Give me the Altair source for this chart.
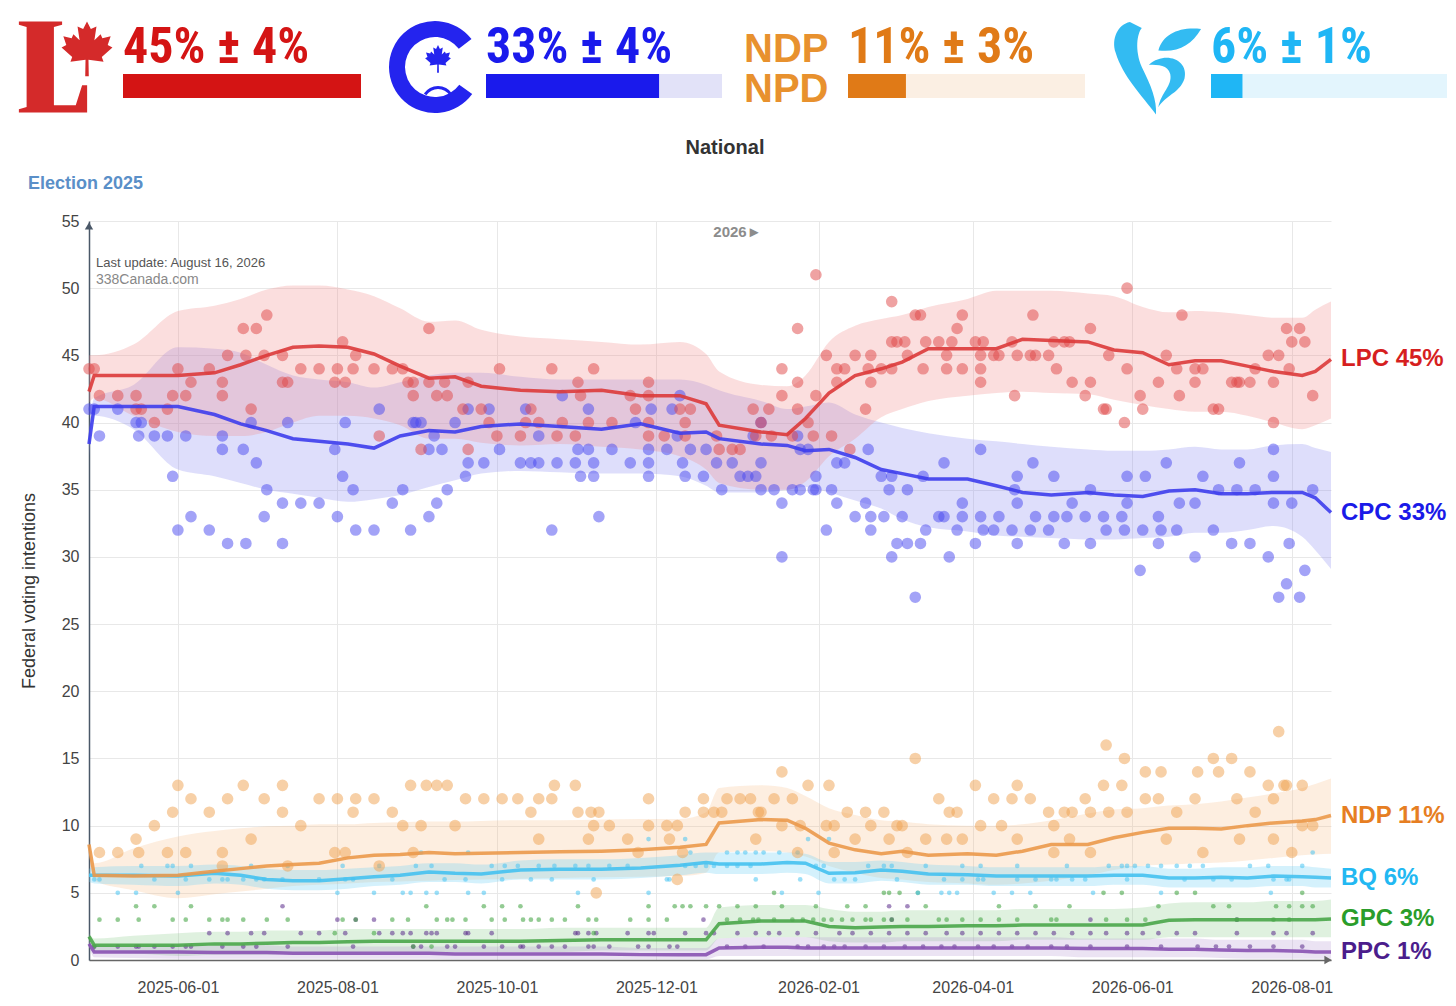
import altair as alt
import pandas as pd

# ---------------- data ----------------
ELECTION_DAY = pd.Timestamp("2025-04-28")   # day 0
END_DATE = "2026-08-16"

# trend grid, in days since the 2025-04-28 election
trend_days = [0, 2, 17, 34, 48, 58, 68, 78, 88, 99,
              109, 119, 130, 140, 150, 165, 180, 196, 211, 226,
              236, 241, 257, 267, 274, 283, 293, 303, 311, 321,
              336, 347, 357, 368, 382, 392, 403, 413, 423, 433,
              443, 453, 464, 469, 475]

lpc_mid = [42.3, 43.5, 43.5, 43.5, 43.7, 44.3, 45.0, 45.6, 45.7, 45.6,
           45.1, 44.2, 43.3, 43.4, 42.7, 42.4, 42.3, 42.4, 42.0, 42.0,
           41.4, 39.8, 39.3, 39.1, 40.3, 42.2, 43.5, 44.0, 44.5, 45.5,
           45.5, 45.5, 46.2, 46.1, 46.0, 45.4, 45.2, 44.3, 44.6, 44.6,
           44.2, 43.8, 43.5, 43.8, 44.7]
lpc_hi = [45.0, 45.0, 45.8, 48.3, 48.7, 49.2, 49.9, 50.2, 50.2, 49.9,
          49.4, 48.5, 47.5, 47.6, 46.9, 46.4, 46.2, 46.0, 45.8, 46.0,
          45.1, 43.8, 42.8, 42.7, 43.5, 46.0, 47.2, 47.7, 48.0, 48.6,
          49.2, 49.8, 49.8, 49.8, 49.6, 49.4, 48.6, 48.2, 48.3, 48.2,
          48.0, 47.8, 47.8, 48.4, 49.0]
lpc_lo = [41.5, 41.8, 40.5, 39.3, 39.0, 39.0, 39.3, 40.0, 40.5, 40.5,
          40.3, 39.8, 38.8, 38.8, 38.5, 38.3, 38.4, 38.2, 38.0, 37.5,
          36.5, 35.5, 35.0, 35.0, 35.6, 37.5, 38.8, 40.4, 41.0, 41.6,
          42.0, 42.2, 42.3, 42.2, 42.1, 41.7, 41.3, 41.0, 40.8, 40.8,
          40.5, 40.0, 39.5, 39.8, 40.3]

cpc_mid = [38.4, 41.2, 41.2, 41.2, 40.6, 39.9, 39.4, 38.8, 38.6, 38.4,
           38.1, 39.0, 39.4, 39.3, 39.7, 39.9, 39.7, 39.5, 39.9, 39.2,
           39.3, 38.8, 38.4, 38.3, 37.9, 38.0, 37.4, 36.5, 36.2, 35.8,
           35.8, 35.3, 34.8, 34.6, 34.8, 34.6, 34.5, 34.9, 35.0, 34.7,
           34.7, 34.8, 34.8, 34.4, 33.3]
cpc_hi = [39.5, 41.8, 42.8, 45.6, 45.5, 45.2, 44.3, 43.5, 43.2, 43.0,
          42.6, 43.0, 43.5, 43.7, 43.7, 43.4, 43.2, 43.2, 43.2, 43.2,
          42.8, 42.4, 41.6, 41.0, 41.2, 41.5, 40.6, 40.0, 39.6, 39.2,
          38.8, 38.6, 38.4, 38.2, 38.0, 37.9, 37.9, 38.0, 38.2, 38.0,
          38.0, 38.3, 38.4, 38.1, 37.8]
cpc_lo = [37.5, 40.5, 39.5, 36.5, 36.0, 35.5, 35.0, 34.7, 34.4, 34.1,
          34.3, 34.6, 35.2, 35.7, 36.2, 36.4, 36.3, 36.2, 36.2, 36.0,
          35.3, 34.8, 34.8, 35.0, 35.2, 34.8, 34.2, 33.6, 32.8, 32.2,
          31.9, 31.6, 31.5, 31.4, 31.3, 31.3, 31.4, 31.5, 31.8, 31.8,
          32.0, 32.3, 31.5, 30.5, 29.1]

ndp_mid = [8.6, 6.3, 6.25, 6.3, 6.6, 6.8, 7.0, 7.1, 7.2, 7.6,
           7.8, 7.85, 8.0, 7.9, 7.95, 8.0, 8.05, 8.1, 8.2, 8.4,
           8.6, 10.2, 10.45, 10.4, 9.8, 8.7, 8.2, 7.9, 8.1, 7.8,
           7.9, 7.8, 8.1, 8.6, 8.6, 9.1, 9.5, 9.8, 9.8, 9.75,
           10.0, 10.2, 10.35, 10.45, 10.75]
ndp_hi = [9.0, 7.2, 8.3, 9.2, 9.6, 9.8, 9.95, 10.0, 10.1, 10.1,
          10.2, 10.25, 10.3, 10.3, 10.35, 10.4, 10.4, 10.45, 10.5, 10.5,
          11.0, 12.8, 13.0, 12.8, 12.2, 11.3, 10.8, 10.4, 10.3, 10.1,
          10.0, 10.0, 10.1, 10.4, 10.9, 11.2, 11.3, 11.5, 11.6, 11.8,
          12.1, 12.4, 12.8, 13.1, 13.5]
ndp_lo = [8.0, 5.9, 5.2, 4.6, 4.9, 5.1, 5.3, 5.5, 5.6, 5.7,
          5.8, 5.85, 5.9, 5.95, 6.0, 6.05, 6.1, 6.15, 6.2, 6.25,
          6.5, 8.0, 8.1, 8.0, 7.7, 7.0, 6.5, 6.1, 6.0, 5.8,
          5.7, 5.6, 5.7, 5.9, 6.3, 6.7, 7.0, 7.1, 7.2, 7.25,
          7.4, 7.6, 7.8, 7.85, 7.9]

bq_mid = [6.3, 6.3, 6.3, 6.25, 6.45, 6.3, 6.0, 5.9, 5.9, 6.05,
          6.2, 6.3, 6.55, 6.45, 6.4, 6.7, 6.75, 6.75, 6.85, 7.05,
          7.25, 7.15, 7.15, 7.25, 7.2, 6.45, 6.5, 6.7, 6.6, 6.4,
          6.35, 6.25, 6.25, 6.25, 6.25, 6.3, 6.3, 6.1, 6.1, 6.15,
          6.1, 6.25, 6.2, 6.15, 6.1]
bq_hi = [6.8, 6.9, 7.0, 7.0, 7.1, 7.0, 6.8, 6.7, 6.7, 6.8,
         6.9, 7.0, 7.2, 7.2, 7.1, 7.4, 7.5, 7.5, 7.6, 7.8,
         8.0, 8.0, 8.0, 8.0, 7.9, 7.3, 7.3, 7.4, 7.3, 7.1,
         7.0, 6.9, 6.9, 6.9, 6.9, 7.0, 7.0, 6.8, 6.8, 6.9,
         6.9, 7.0, 7.0, 6.9, 6.8]
bq_lo = [5.8, 5.7, 5.6, 5.5, 5.7, 5.6, 5.3, 5.2, 5.2, 5.3,
         5.5, 5.6, 5.8, 5.8, 5.7, 6.0, 6.0, 6.0, 6.1, 6.3,
         6.5, 6.4, 6.4, 6.5, 6.4, 5.7, 5.7, 5.9, 5.8, 5.6,
         5.6, 5.5, 5.5, 5.5, 5.5, 5.6, 5.6, 5.4, 5.4, 5.4,
         5.4, 5.5, 5.5, 5.4, 5.4]

gpc_mid = [1.75, 1.1, 1.1, 1.1, 1.2, 1.2, 1.25, 1.3, 1.3, 1.35,
           1.4, 1.4, 1.4, 1.4, 1.4, 1.4, 1.45, 1.5, 1.5, 1.5,
           1.5, 2.7, 2.9, 2.9, 2.9, 2.5, 2.4, 2.45, 2.5, 2.5,
           2.55, 2.55, 2.6, 2.6, 2.6, 2.6, 2.6, 2.95, 3.0, 3.0,
           3.0, 3.0, 3.0, 3.0, 3.05]
gpc_hi = [2.0, 1.6, 1.8, 2.0, 2.1, 2.1, 2.2, 2.2, 2.2, 2.3,
          2.3, 2.3, 2.3, 2.3, 2.3, 2.3, 2.4, 2.4, 2.4, 2.4,
          2.4, 3.9, 4.1, 4.1, 4.1, 3.8, 3.6, 3.6, 3.7, 3.7,
          3.7, 3.7, 3.8, 3.8, 3.8, 3.8, 3.9, 4.2, 4.3, 4.3,
          4.3, 4.4, 4.4, 4.4, 4.5]
gpc_lo = [1.4, 0.6, 0.5, 0.3, 0.4, 0.4, 0.4, 0.5, 0.5, 0.5,
          0.6, 0.6, 0.6, 0.6, 0.6, 0.6, 0.6, 0.7, 0.7, 0.7,
          0.7, 1.6, 1.7, 1.7, 1.7, 1.4, 1.3, 1.3, 1.4, 1.4,
          1.4, 1.4, 1.5, 1.5, 1.5, 1.5, 1.5, 1.7, 1.7, 1.7,
          1.7, 1.7, 1.7, 1.7, 1.7]

ppc_mid = [1.2, 0.6, 0.6, 0.6, 0.55, 0.55, 0.55, 0.5, 0.5, 0.5,
           0.5, 0.5, 0.5, 0.45, 0.45, 0.45, 0.45, 0.45, 0.4, 0.4,
           0.4, 0.9, 0.95, 0.95, 0.9, 0.9, 0.9, 0.9, 0.9, 0.9,
           0.9, 0.9, 0.9, 0.9, 0.85, 0.85, 0.85, 0.8, 0.8, 0.75,
           0.7, 0.7, 0.65, 0.6, 0.6]
ppc_hi = [1.4, 1.0, 1.0, 1.1, 1.1, 1.1, 1.1, 1.0, 1.0, 1.0,
          1.0, 1.0, 1.0, 1.0, 1.0, 1.0, 1.0, 1.0, 0.9, 0.9,
          0.9, 1.6, 1.7, 1.7, 1.7, 1.7, 1.7, 1.7, 1.7, 1.7,
          1.7, 1.7, 1.7, 1.7, 1.6, 1.6, 1.6, 1.6, 1.6, 1.5,
          1.5, 1.5, 1.5, 1.4, 1.4]
ppc_lo = [1.0, 0.2, 0.15, 0.1, 0.1, 0.1, 0.1, 0.1, 0.1, 0.1,
          0.1, 0.1, 0.1, 0.05, 0.05, 0.05, 0.05, 0.05, 0.05, 0.05,
          0.05, 0.3, 0.3, 0.3, 0.3, 0.3, 0.3, 0.3, 0.3, 0.3,
          0.3, 0.3, 0.3, 0.3, 0.2, 0.2, 0.2, 0.2, 0.2, 0.15,
          0.1, 0.1, 0.1, 0.1, 0.1]

# individual polls: (days since election, %)
lpc_polls = [(0,44),(2,44),(4,42),(11,42),(18,42),(18,41),(20,41),(25,40),(30,41),(32,42),(34,44),(37,42),(39,43),
    (46,44),(51,43),(51,42),(53,45),(59,47),(60,45),(62,41),(64,47),(67,45),(68,48),(74,45),(74,43),(76,43),(81,44),
    (88,44),(94,43),(95,44),(97,46),(98,43),(101,44),(102,45),(109,44),(111,39),(116,44),(120,44),(122,43),(124,43),
    (124,42),(127,38),(130,47),(130,43),(133,42),(136,43),(137,42),(143,41),(145,43),(145,38),(150,41),(153,40),
    (156,39),(157,44),(165,39),(167,40),(169,41),(172,40),(177,44),(179,39),(181,40),(186,39),(187,43),(188,42),
    (191,40),(193,44),(200,40),(207,42),(209,41),(214,42),(214,43),(214,40),(214,39),(220,39),(226,41),(228,40),
    (230,41),(228,39),(240,39),(241,38),(246,38),(249,38),(254,41),(255,39),(257,40),(260,41),(261,39),(265,42),
    (265,44),(269,39),(271,47),(271,43),(271,41),(275,40),(277,39),(278,51),(278,42),(282,45),(284,39),(286,44),
    (286,43),(289,44),(291,38),(293,45),(297,41),(298,44),(299,45),(299,43),(303,44),(307,49),(307,46),(309,46),
    (307,44),(312,46),(313,45),(316,48),(318,48),(319,44),(320,46),(325,46),(328,45),(328,44),(330,46),(332,47),
    (334,48),(334,44),(339,46),(341,45),(341,44),(341,43),(342,46),(346,45),(348,45),(353,46),(354,42),(355,45),
    (360,45),(361,48),(362,45),(367,45),(369,46),(370,44),(373,46),(375,46),(376,43),(381,42),(383,47),(383,43),
    (388,41),(389,41),(390,45),(396,40),(397,50),(397,44),(402,42),(403,41),(409,43),(412,45),(416,44),(417,42),
    (418,48),(423,44),(423,43),(426,44),(430,41),(432,41),(437,43),(439,43),(440,43),(444,43),(446,44),(451,45),
    (453,40),(453,43),(455,45),(458,47),(459,44),(460,46),(463,47),(465,46),(468,42)]

cpc_polls = [(0,41),(2,41),(4,39),(11,41),(18,40),(20,40),(19,39),(25,39),(30,39),(32,36),(34,32),(37,39),(39,33),
    (46,32),(51,39),(51,38),(53,31),(59,38),(60,31),(62,40),(64,37),(67,33),(68,35),(74,34),(74,31),(76,40),(81,34),
    (88,34),(94,38),(95,33),(97,36),(98,40),(101,35),(102,32),(109,32),(111,41),(116,34),(120,35),(123,32),(124,40),
    (125,40),(127,40),(130,33),(132,39),(130,38),(133,34),(135,38),(137,35),(140,40),(144,36),(145,37),(145,41),
    (151,37),(153,41),(157,38),(165,37),(167,41),(169,37),(172,37),(172,39),(177,32),(179,37),(181,42),(186,37),
    (187,38),(188,36),(191,41),(191,38),(193,37),(193,36),(195,33),(200,38),(207,37),(209,40),(214,38),(214,37),
    (214,36),(215,41),(221,38),(223,41),(225,39),(226,42),(227,37),(228,36),(230,38),(235,36),(236,38),(240,37),
    (242,35),(246,37),(249,36),(252,36),(254,39),(255,36),(257,40),(257,37),(257,35),(262,35),(265,34),(265,30),
    (269,35),(271,39),(272,38),(272,35),(275,38),(277,35),(278,36),(278,35),(282,32),(284,35),(286,37),(286,34),
    (289,37),(293,33),(297,34),(298,38),(299,33),(299,32),(303,36),(304,33),(306,35),(307,30),(309,31),(307,36),
    (311,33),(313,35),(313,31),(316,27),(318,31),(319,36),(320,32),(325,33),(327,33),(327,37),(329,30),(332,32),
    (334,34),(334,33),(339,31),(341,38),(341,33),(342,32),(346,32),(348,33),(353,32),(354,35),(355,36),(355,34),
    (355,31),(360,32),(361,37),(362,33),(367,32),(369,36),(369,33),(373,31),(374,33),(376,34),(381,33),(383,35),
    (383,31),(388,33),(389,32),(395,33),(396,32),(397,36),(397,34),(402,29),(403,32),(404,36),(409,33),(409,31),
    (410,32),(412,37),(416,32),(417,34),(423,30),(423,34),(426,36),(430,32),(432,35),(437,31),(439,35),(440,37),
    (444,31),(446,35),(451,30),(453,38),(453,36),(453,34),(455,27),(458,28),(459,31),(460,34),(463,27),(465,29),
    (468,35)]

ndp_polls = [(4,8),(11,8),(18,9),(19,8),(25,10),(30,8),(32,11),(34,13),(37,8),(39,12),(46,11),(51,7),(51,8),(53,12),
    (59,13),(62,9),(67,12),(74,13),(74,11),(76,7),(81,10),(88,12),(94,8),(95,12),(98,8),(101,11),(102,12),(109,12),
    (111,7),(116,11),(120,10),(123,13),(124,8),(127,10),(129,13),(133,13),(137,13),(140,10),(144,12),(151,12),
    (158,12),(164,12),(169,11),(172,9),(172,12),(177,12),(178,13),(186,13),(187,11),(191,9),(192,11),(193,10),
    (194,5),(195,11),(199,10),(206,9),(210,8),(214,10),(214,12),(221,10),(222,9),(225,10),(225,6),(227,8),(228,11),
    (235,11),(235,12),(239,11),(242,11),(244,12),(249,12),(253,12),(255,9),(256,11),(257,11),(262,12),(265,10),
    (265,14),(269,12),(271,8),(272,10),(275,13),(282,10),(283,13),(285,10),(285,8),(290,11),(293,9),(297,11),
    (299,10),(304,11),(306,9),(309,10),(311,10),(313,8),(316,15),(320,9),(325,12),(328,9),(329,11),(332,11),
    (334,9),(339,13),(341,10),(346,12),(349,10),(353,12),(355,13),(355,9),(360,12),(367,11),(369,10),(369,8),
    (373,11),(375,9),(376,11),(381,12),(383,11),(383,8),(388,13),(389,16),(390,11),(395,13),(396,15),(397,11),
    (404,14),(404,12),(409,12),(410,14),(412,9),(416,11),(423,12),(424,14),(426,8),(430,15),(432,14),(437,15),
    (439,12),(440,9),(444,14),(446,11),(451,13),(453,9),(453,12),(455,17),(457,13),(458,13),(460,8),(464,10),
    (464,13),(468,10)]

bq_polls = [(2,6),(4,6),(11,5),(18,5),(20,7),(25,6),(30,7),(32,7),(34,5),(37,6),(39,7),(46,6),(51,6),(53,6),(59,6),
    (62,7),(64,6),(67,6),(74,6),(76,7),(88,6),(95,5),(97,7),(98,6),(101,6),(109,5),(111,7),(116,6),(120,5),(123,5),
    (125,7),(127,8),(129,5),(131,7),(133,5),(136,6),(144,6),(145,5),(145,8),(151,5),(154,7),(158,6),(159,7),(164,7),
    (169,6),(172,7),(177,6),(178,7),(186,7),(187,5),(191,7),(193,6),(199,7),(206,7),(214,9),(214,5),(221,6),(222,6),
    (228,9),(228,7),(230,8),(232,7),(236,7),(239,7),(244,8),(244,7),(248,8),(248,7),(251,8),(253,7),(255,8),(255,6),
    (258,8),(264,8),(265,5),(271,8),(272,6),(275,9),(278,7),(279,5),(281,7),(283,9),(285,6),(289,6),(293,6),(298,7),
    (304,7),(307,7),(309,6),(317,5),(320,7),(326,5),(327,6),(329,5),(332,5),(334,7),(334,6),(340,6),(341,7),(342,6),
    (346,5),(353,5),(355,7),(355,6),(360,5),(362,6),(368,6),(370,6),(374,7),(376,6),(381,6),(384,5),(390,7),(395,7),
    (397,7),(397,6),(400,7),(405,7),(410,7),(410,5),(416,7),(419,6),(421,7),(426,7),(430,6),(437,6),(444,7),(451,7),
    (452,5),(453,6),(458,6),(459,6),(464,7),(468,8)]

gpc_polls = [(2,1),(4,3),(11,3),(18,4),(19,3),(25,4),(32,3),(37,3),(39,4),(46,3),(51,3),(53,3),(59,3),(68,3),(76,3),
    (94,2),(97,3),(102,3),(109,2),(116,3),(122,3),(124,1),(129,4),(131,1),(133,3),(137,3),(139,3),(144,3),(151,4),
    (154,3),(158,4),(159,3),(165,4),(166,3),(169,3),(172,3),(177,3),(182,3),(187,4),(191,3),(193,2),(194,3),(207,3),
    (214,4),(214,3),(221,3),(224,4),(227,4),(230,4),(236,4),(241,4),(244,3),(248,4),(249,3),(254,3),(255,4),(256,3),
    (262,3),(262,5),(265,4),(269,3),(273,3),(277,3),(278,4),(281,3),(284,3),(288,3),(290,4),(292,3),(297,3),(297,4),
    (299,3),(304,3),(304,5),(306,5),(307,3),(310,5),(313,3),(317,5),(320,4),(325,3),(328,3),(334,3),(341,3),(348,3),
    (348,4),(355,3),(362,4),(368,3),(370,3),(375,4),(388,5),(389,3),(395,5),(397,3),(404,3),(409,4),(416,5),(423,5),
    (430,4),(436,4),(439,3),(453,3),(454,4),(459,3),(459,4),(464,5),(464,4),(468,4)]

ppc_polls = [(2,1),(11,1),(18,1),(19,1),(25,1),(32,1),(37,1),(39,1),(46,2),(51,1),(53,2),(59,1),(62,2),(64,1),(67,2),
    (74,4),(76,1),(81,2),(88,2),(95,3),(98,2),(101,1),(102,3),(109,3),(111,2),(116,2),(120,2),(123,2),(124,1),(127,1),
    (129,2),(131,2),(133,2),(137,1),(140,1),(144,2),(145,2),(151,1),(154,2),(158,1),(165,1),(166,1),(172,1),(177,1),
    (182,1),(186,2),(187,2),(191,1),(191,2),(193,1),(194,2),(199,1),(206,2),(210,1),(214,1),(214,2),(216,2),(222,1),
    (225,1),(228,2),(235,3),(236,2),(239,2),(244,1),(248,2),(251,1),(255,2),(258,1),(260,2),(264,2),(271,1),(271,2),
    (275,1),(278,2),(281,1),(285,1),(287,2),(289,1),(292,2),(297,1),(299,2),(304,1),(306,2),(306,4),(307,3),(312,1),
    (313,2),(313,4),(319,1),(320,2),(326,1),(328,2),(331,1),(334,2),(340,1),(341,2),(346,1),(348,2),(353,1),(355,2),
    (359,1),(362,2),(368,1),(369,2),(374,1),(376,2),(383,2),(383,1),(383,3),(389,2),(397,2),(397,1),(403,2),(409,2),
    (410,1),(416,2),(423,2),(424,1),(431,1),(436,1),(439,2),(439,3),(444,1),(453,1),(453,2),(458,2),(464,1),(468,2)]

parties = ["LPC", "CPC", "NDP", "BQ", "GPC", "PPC"]
end_labels = ["LPC 45%", "CPC 33%", "NDP 11%", "BQ 6%", "GPC 3%", "PPC 1%"]

header_parties = ["LPC", "CPC", "NDP", "BQ"]
header_share = [45, 33, 11, 6]
header_moe = [4, 4, 3, 1]
bar_max = 45

x_tick_dates = ["2025-06-01", "2025-08-01", "2025-10-01", "2025-12-01",
                "2026-02-01", "2026-04-01", "2026-06-01", "2026-08-01"]
year_mark_date = "2026-01-01"

# ---------------- styles / layout ----------------
FONT = "Liberation Sans, Arial, Helvetica, sans-serif"
NARROW = "Liberation Sans Narrow, Arial Narrow, Roboto Condensed, DejaVu Sans Condensed, sans-serif"

line_color = {"LPC": "#dc3a3a", "CPC": "#3d3dec", "NDP": "#eb994b", "BQ": "#45c1ef", "GPC": "#4aa64a", "PPC": "#8a52b2"}
dot_color = {"LPC": "#e04646", "CPC": "#4848f0", "NDP": "#f0a150", "BQ": "#48c4f2", "GPC": "#3aa03a", "PPC": "#5a2a8a"}
band_color = {"LPC": "#f08a8a", "CPC": "#8a8af2", "NDP": "#f5b070", "BQ": "#70d0f5", "GPC": "#80c880", "PPC": "#b090d0"}
band_op = {"LPC": 0.28, "CPC": 0.28, "NDP": 0.22, "BQ": 0.3, "GPC": 0.25, "PPC": 0.25}
label_color = ["#d61f1f", "#1a1ae8", "#e67e22", "#22b8f2", "#2a9d2a", "#4b1d8c"]

hdr_color = ["#d41414", "#1a1aec", "#e07a17", "#1fb6f5"]
hdr_bg = ["#f6d6d6", "#e2e2f8", "#fbefe3", "#e3f5fd"]
# pixel ranges (relative to the plot's left edge) of the four header gauges
hdr_bar_range = [[34, 272], [397, 633], [759, 996], [1122, 1358]]
HDR_TEXT_Y, HDR_BAR_Y, HDR_BAR_Y2 = -158, -147, -123

L_SHAPE = ("M-0.75,-1 L0.2,-1 L0.2,-0.93 L0.02,-0.88 L0.02,0.84 L0.5,0.84 L0.64,0.4 L0.75,0.4 "
           "L0.75,1 L-0.75,1 L-0.75,0.93 L-0.58,0.88 L-0.58,-0.88 L-0.75,-0.93 Z")
LEAF = ("M0,-1 L0.13,-0.74 L0.32,-0.83 L0.25,-0.36 L0.46,-0.57 L0.52,-0.43 L0.8,-0.5 L0.7,-0.2 "
        "L0.86,-0.12 L0.5,0.2 L0.56,0.36 L0.05,0.3 L0.06,0.85 L-0.06,0.85 L-0.05,0.3 L-0.56,0.36 "
        "L-0.5,0.2 L-0.86,-0.12 L-0.7,-0.2 L-0.8,-0.5 L-0.52,-0.43 L-0.46,-0.57 L-0.25,-0.36 "
        "L-0.32,-0.83 L-0.13,-0.74 Z")
BQ_LOGO = ("M-0.55,-0.95 C-0.8,-0.9 -0.95,-0.6 -0.85,-0.3 C-0.7,0.2 -0.3,0.6 0.0,1.0 "
           "C0.02,0.7 -0.1,0.4 -0.3,0.0 C-0.45,-0.35 -0.4,-0.7 -0.3,-0.82 Z "
           "M-0.15,-0.05 C0.2,-0.35 0.7,-0.15 0.6,0.25 C0.5,0.55 0.2,0.6 0.05,0.85 "
           "C0.1,0.55 0.35,0.4 0.3,0.15 C0.25,-0.05 0.05,-0.05 -0.15,-0.05 Z "
           "M0.05,-0.35 C0.15,-0.7 0.5,-0.85 0.95,-0.8 C0.75,-0.45 0.45,-0.3 0.05,-0.35 Z")


def to_date(d):
    return (ELECTION_DAY + pd.Timedelta(days=int(d))).strftime("%Y-%m-%d")


def ms(s):
    return int(pd.Timestamp(s, tz="UTC").value // 10**6)


W, H = 1242, 739
trend_dates = [to_date(d) for d in trend_days]
trend = {
    "LPC": (lpc_mid, lpc_lo, lpc_hi), "CPC": (cpc_mid, cpc_lo, cpc_hi), "NDP": (ndp_mid, ndp_lo, ndp_hi),
    "BQ": (bq_mid, bq_lo, bq_hi), "GPC": (gpc_mid, gpc_lo, gpc_hi), "PPC": (ppc_mid, ppc_lo, ppc_hi),
}
polls = {"LPC": lpc_polls, "CPC": cpc_polls, "NDP": ndp_polls, "BQ": bq_polls, "GPC": gpc_polls, "PPC": ppc_polls}

xscale = alt.Scale(type="utc", domain=[ms("2025-04-28"), ms(END_DATE)], nice=False)
xaxis = alt.Axis(values=[ms(d) for d in x_tick_dates], format="%Y-%m-%d", title=None, labelFontSize=16,
                 labelColor="#444", labelPadding=19, ticks=False, grid=True, gridColor="#e8e8e8",
                 domainColor="#666", domainWidth=1.5, labelFont=FONT)
yscale = alt.Scale(domain=[0, 55], nice=False)
yaxis = alt.Axis(values=list(range(0, 56, 5)), title="Federal voting intentions", titleFontSize=18,
                 titleFontWeight="normal", titleColor="#333", titleFont=FONT, labelFontSize=16, labelColor="#444",
                 labelFont=FONT, grid=True, gridColor="#e8e8e8", domainColor="#4a5868", domainWidth=1.5,
                 ticks=False, labelPadding=10, titlePadding=23)
X_AXIS = alt.X("date:T", scale=xscale, axis=xaxis)
X = alt.X("date:T", scale=xscale, axis=None)

layers = []
first = True
for p in ["NDP", "BQ", "GPC", "PPC", "CPC", "LPC"]:
    mid, lo, hi = trend[p]
    df = pd.DataFrame({"date": trend_dates, "lo": lo, "hi": hi})
    layers.append(alt.Chart(df).mark_area(color=band_color[p], opacity=band_op[p], interpolate="monotone")
                  .encode(x=X_AXIS if first else X, y=alt.Y("lo:Q", scale=yscale, axis=yaxis), y2="hi:Q"))
    first = False

for p in ["PPC", "GPC", "BQ", "NDP", "CPC", "LPC"]:
    df = pd.DataFrame({"date": [to_date(d) for d, v in polls[p]], "value": [v for d, v in polls[p]]})
    big = p in ("LPC", "CPC", "NDP")
    layers.append(alt.Chart(df).mark_circle(size=135 if big else 22, opacity=0.5 if big else 0.55, color=dot_color[p])
                  .encode(x=X, y=alt.Y("value:Q", scale=yscale, axis=yaxis)))

for p in ["PPC", "GPC", "BQ", "NDP", "CPC", "LPC"]:
    mid, lo, hi = trend[p]
    df = pd.DataFrame({"date": trend_dates, "value": mid})
    layers.append(alt.Chart(df).mark_line(color=line_color[p], strokeWidth=3.5, opacity=0.9)
                  .encode(x=X, y=alt.Y("value:Q", scale=yscale, axis=yaxis)))

lab_df = pd.DataFrame({"party": parties, "date": [END_DATE] * 6,
                       "value": [trend[p][0][-1] for p in parties], "text": end_labels})
layers.append(alt.Chart(lab_df).mark_text(align="left", baseline="middle", dx=10, fontSize=24, fontWeight="bold",
                                          font=FONT)
              .encode(x=X, y=alt.Y("value:Q", scale=yscale, axis=yaxis), text="text:N",
                      color=alt.Color("party:N", scale=alt.Scale(domain=parties, range=label_color), legend=None)))

yr_df = pd.DataFrame({"date": [year_mark_date], "text": ["2026►"]})
layers.append(alt.Chart(yr_df).mark_text(fontSize=15, fontWeight="bold", color="#8c8c8c", font=FONT,
                                         baseline="alphabetic")
              .encode(x=X, y=alt.value(16), text="text:N"))

notes = pd.DataFrame({"text": ["Last update: August 16, 2026", "338Canada.com", "National", "Election 2025"]})
note_specs = [
    (0, dict(fontSize=13, color="#555"), 7, 46, "left"),
    (1, dict(fontSize=14, color="#888"), 7, 63, "left"),
    (2, dict(fontSize=20, fontWeight="bold", color="#333"), 636, -67, "center"),
    (3, dict(fontSize=18, fontWeight="bold", color="#5a8fc8"), -61, -32, "left"),
]
for idx, style, xv, yv, al in note_specs:
    layers.append(alt.Chart(notes).transform_filter(alt.datum.text == notes["text"][idx])
                  .mark_text(align=al, baseline="alphabetic", font=FONT, **style)
                  .encode(x=alt.value(xv), y=alt.value(yv), text="text:N"))

arrow_df = pd.DataFrame({"a": [1]})
layers.append(alt.Chart(arrow_df).mark_point(shape="triangle-up", filled=True, size=70, opacity=1, color="#4a5868")
              .encode(x=alt.value(0), y=alt.value(5)))
layers.append(alt.Chart(arrow_df).mark_point(shape="triangle-right", filled=True, size=70, opacity=1, color="#666")
              .encode(x=alt.value(W - 3), y=alt.value(H)))

# ---------------- header gauges (same canvas, own x scales) ----------------
for i, p in enumerate(header_parties):
    df = pd.DataFrame({"zero": [0], "full": [bar_max], "share": [header_share[i]],
                       "label": [f"{header_share[i]}% ± {header_moe[i]}%"]})
    xenc = alt.X("zero:Q", scale=alt.Scale(domain=[0, bar_max], range=hdr_bar_range[i]), axis=None)
    base = alt.Chart(df)
    layers.append(base.mark_bar(color=hdr_bg[i]).encode(x=xenc, x2="full:Q", y=alt.value(HDR_BAR_Y),
                                                        y2=alt.value(HDR_BAR_Y2)))
    layers.append(base.mark_bar(color=hdr_color[i]).encode(x=xenc, x2="share:Q", y=alt.value(HDR_BAR_Y),
                                                           y2=alt.value(HDR_BAR_Y2)))
    layers.append(base.mark_text(align="left", baseline="alphabetic", font=NARROW, fontSize=50, fontWeight="bold",
                                 color=hdr_color[i]).encode(x=xenc, y=alt.value(HDR_TEXT_Y), text="label:N"))

logo = alt.Chart(arrow_df)
layers += [
    logo.mark_point(shape=L_SHAPE, filled=True, size=8281, opacity=1, color="#d42a2a", strokeWidth=0)
        .encode(x=alt.value(-36), y=alt.value(-154)),
    logo.mark_point(shape=LEAF, filled=True, size=3500, opacity=1, color="#d42a2a", strokeWidth=0)
        .encode(x=alt.value(-2), y=alt.value(-170)),
    logo.mark_arc(theta=2.2, theta2=7.2, innerRadius=30, outerRadius=46, color="#2424ee")
        .encode(x=alt.value(346), y=alt.value(-154)),
    logo.mark_point(shape=LEAF, filled=True, size=900, opacity=1, color="#2424ee", strokeWidth=0)
        .encode(x=alt.value(349), y=alt.value(-161)),
    logo.mark_arc(theta=5.3, theta2=7.27, innerRadius=14, outerRadius=17, color="#2424ee")
        .encode(x=alt.value(349), y=alt.value(-118)),
    logo.mark_text(text="NDP\nNPD", lineBreak="\n", lineHeight=40, font=FONT, fontSize=40, fontWeight="bold",
                   align="left", baseline="alphabetic", color="#e8912e")
        .encode(x=alt.value(655), y=alt.value(-159)),
    logo.mark_point(shape=BQ_LOGO, filled=True, size=9000, opacity=1, color="#33bbf2", strokeWidth=0)
        .encode(x=alt.value(1067), y=alt.value(-154)),
]

chart = (alt.layer(*layers)
         .resolve_scale(x="independent")
         .properties(width=W, height=H, padding={"left": 10, "top": 13, "right": 0, "bottom": 0},
                     background="white")
         .configure(font=FONT)
         .configure_view(stroke=None))

chart.save("out.html", embed_options={"renderer": "svg", "actions": False})
